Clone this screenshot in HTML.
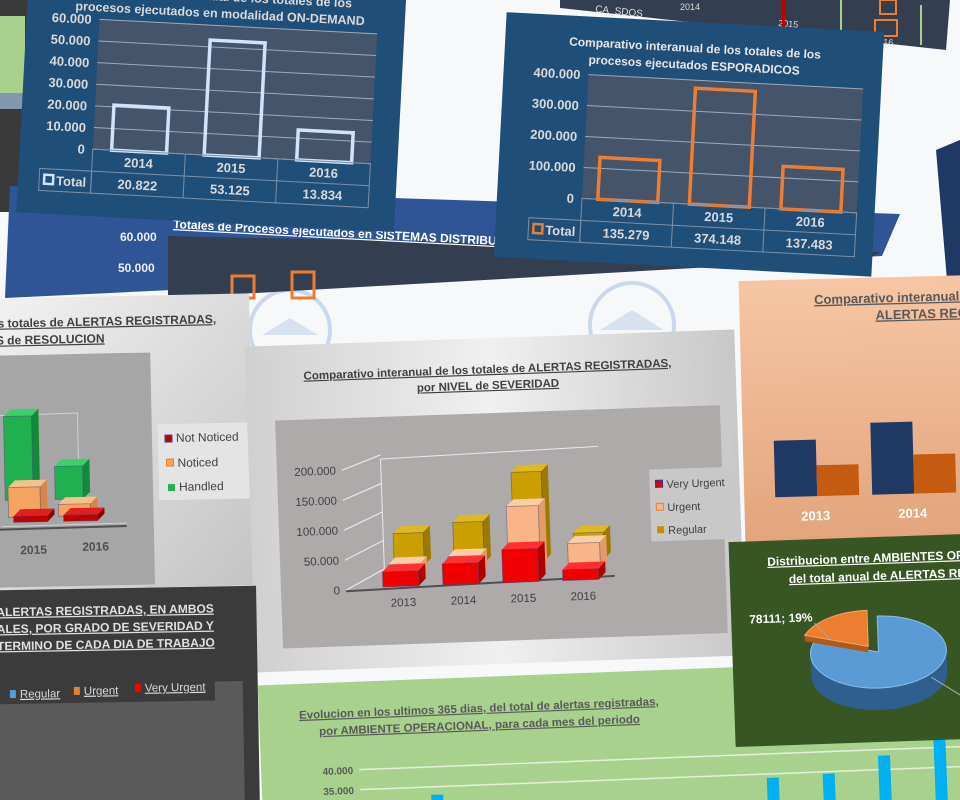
<!DOCTYPE html>
<html><head><meta charset="utf-8">
<style>
html,body{margin:0;padding:0;background:#fff;overflow:hidden;}
#wrap{position:relative;width:960px;height:800px;overflow:hidden;background:#f7f8fa;}
svg{position:absolute;left:0;top:0;font-family:"Liberation Sans",sans-serif;}
</style></head>
<body>
<div id="wrap">
<svg id="s" width="960" height="800" viewBox="0 0 960 800">
<defs>
<linearGradient id="gGray" x1="0" y1="0" x2="1" y2="1"><stop offset="0" stop-color="#f2f2f2"/><stop offset="1" stop-color="#c4c4c4"/></linearGradient>
<linearGradient id="gGray2" x1="0" y1="0" x2="1" y2="0"><stop offset="0" stop-color="#d0d0d0"/><stop offset="0.5" stop-color="#f0f0f0"/><stop offset="1" stop-color="#c8c8c8"/></linearGradient>
<linearGradient id="gPeach" x1="0" y1="0" x2="0" y2="1"><stop offset="0" stop-color="#f6c6a4"/><stop offset="1" stop-color="#e2a47c"/></linearGradient>
</defs>

<g fill="none" stroke="#c9d8ea" stroke-width="4">
<circle cx="290" cy="330" r="40"/><circle cx="632" cy="325" r="42"/>
<path d="M262 335 L290 318 L318 335 Z M600 330 L632 310 L664 330 Z" fill="#d6e2f0" stroke="none"/>
</g>

<g>
<rect x="0" y="0" width="28" height="212" fill="#3a3a3a"/>
<rect x="0" y="16" width="25" height="77" fill="#a9d18e"/>
<rect x="0" y="93" width="25" height="16" fill="#8497b0"/>
</g>

<g>
<polygon points="560,0 950,0 946,50 560,8" fill="#333f50"/>
<text x="595" y="12" font-size="10" fill="#ddd" transform="rotate(6,595,12)">CA_SDOS</text>
<text x="680" y="10" font-size="9" fill="#ddd">2014</text>
<text x="778" y="26" font-size="9" fill="#ddd" transform="rotate(5,778,26)">2015</text>
<text x="873" y="44" font-size="9" fill="#ddd" transform="rotate(5,873,44)">2016</text>
<rect x="782" y="0" width="3" height="28" fill="#c00000"/><rect x="880" y="0" width="16" height="14" fill="none" stroke="#ed7d31" stroke-width="2"/>
<rect x="875" y="20" width="22" height="16" fill="none" stroke="#ed7d31" stroke-width="2"/>
<rect x="840" y="0" width="2" height="40" fill="#a9d18e"/><rect x="920" y="5" width="2" height="40" fill="#a9d18e"/>
</g>

<polygon points="936,150 960,140 960,292 948,292" fill="#1f3864"/>

<g>
<polygon points="10,186 900,214 882,256 5,298" fill="#2f5597"/>
<polygon points="168,236 880,252 870,258 168,298" fill="#333f50"/>
<text x="120" y="241" font-size="12" font-weight="bold" fill="#eee">60.000</text>
<text x="118" y="272" font-size="12" font-weight="bold" fill="#eee">50.000</text>
<text x="173" y="228" font-size="12" font-weight="bold" fill="#fff" text-decoration="underline" transform="rotate(3,173,228)">Totales de Procesos ejecutados en SISTEMAS DISTRIBUIDOS, bajo planificaciones</text>
<rect x="232" y="276" width="22" height="22" fill="none" stroke="#ed7d31" stroke-width="3"/>
<rect x="292" y="272" width="22" height="26" fill="none" stroke="#ed7d31" stroke-width="3"/>
</g>

<g id="od" transform="rotate(3,205,110)">
<rect x="22" y="-30" width="378" height="252" fill="#1f4e79"/>
<text x="215" y="0" font-size="12.5" font-weight="bold" fill="#d9d9d9" text-anchor="middle">Comparativo interanual de los totales de los</text>
<text x="215" y="17" font-size="12.5" font-weight="bold" fill="#d9d9d9" text-anchor="middle">procesos ejecutados en modalidad ON-DEMAND</text>
<rect x="95" y="25" width="278" height="130" fill="#44546a"/>
<g id="odGrid"></g><g id="odBars"></g><g id="odTable"></g>
</g>

<g id="es" transform="translate(0,4) rotate(3,690,140)">
<rect x="500" y="18" width="378" height="245" fill="#1f4e79"/>
<text x="690" y="48" font-size="12" font-weight="bold" fill="#e7e6e6" text-anchor="middle">Comparativo interanual  de los totales de los</text>
<text x="690" y="65" font-size="12" font-weight="bold" fill="#e7e6e6" text-anchor="middle">procesos ejecutados ESPORADICOS</text>
<rect x="585" y="76" width="275" height="124" fill="#44546a"/>
<g id="esGrid"></g><g id="esBars"></g><g id="esTable"></g>
</g>

<g transform="rotate(-1.2,125,440)">
<rect x="-10" y="296" width="262" height="292" fill="url(#gGray)"/>
<text x="0" y="325" font-size="12" font-weight="bold" fill="#404040" text-decoration="underline">s totales de ALERTAS REGISTRADAS,</text>
<text x="-2" y="342" font-size="12" font-weight="bold" fill="#404040" text-decoration="underline">S de RESOLUCION</text>
<rect x="-8" y="353" width="160" height="232" fill="#a6a6a6"/>
<g stroke="#d0d0d0" fill="none" stroke-width="1"><path d="M0 413 L78 412 L78 500 M36 412 L36 500"/><path d="M0 524 L125 523"/></g>
<g id="erBars"></g>
<text x="18" y="552" font-size="12" font-weight="bold" fill="#505050">2015</text>
<text x="80" y="550" font-size="12" font-weight="bold" fill="#505050">2016</text>
<g>
<rect x="158" y="425" width="92" height="76" fill="#e4e4e4"/>
<rect x="165" y="436" width="7" height="7" fill="#c00000" stroke="#4040a0"/><text x="176" y="443" font-size="12" fill="#404040">Not Noticed</text>
<rect x="166" y="460" width="7" height="7" fill="#f4a460" stroke="#ed7d31"/><text x="177" y="468" font-size="12" fill="#404040">Noticed</text>
<rect x="167" y="485" width="7" height="7" fill="#1fb050"/><text x="178" y="492" font-size="12" fill="#404040">Handled</text>
</g>
</g>

<g transform="rotate(-2,495,500)">
<rect x="250" y="338" width="490" height="326" fill="url(#gGray2)"/>
<text x="492" y="373" font-size="11.5" font-weight="bold" fill="#404040" text-anchor="middle" text-decoration="underline">Comparativo interanual  de los totales de ALERTAS REGISTRADAS,</text>
<text x="492" y="389" font-size="11.5" font-weight="bold" fill="#404040" text-anchor="middle" text-decoration="underline">por NIVEL de SEVERIDAD</text>
<rect x="278" y="413" width="445" height="228" fill="#aeaaaa"/>
<g id="nsGrid"></g><g id="nsBars"></g>
<g>
<rect x="650" y="475" width="82" height="72" fill="#c8c8c8"/>
<rect x="656" y="486" width="7" height="7" fill="#e00000" stroke="#3030a0"/><text x="667" y="494" font-size="11" fill="#404040">Very Urgent</text>
<rect x="656" y="509" width="7" height="7" fill="#f8b58a" stroke="#ed7d31"/><text x="667" y="517" font-size="11" fill="#404040">Urgent</text>
<rect x="656" y="532" width="7" height="7" fill="#bf9000"/><text x="667" y="540" font-size="11" fill="#404040">Regular</text>
</g>
</g>

<g transform="rotate(-1.5,860,410)">
<rect x="742" y="278" width="240" height="265" fill="url(#gPeach)"/>
<text x="817" y="303" font-size="13" font-weight="bold" fill="#595959" text-decoration="underline">Comparativo  interanual de los totales de</text>
<text x="878" y="320" font-size="13" font-weight="bold" fill="#595959" text-decoration="underline">ALERTAS REGISTRADAS</text>
<g id="pcBars"></g>
</g>

<g transform="rotate(-1,130,700)">
<rect x="-10" y="588" width="268" height="220" fill="#3b3b3b"/>
<text x="-2" y="614" font-size="12" font-weight="bold" fill="#e0e0e0" text-decoration="underline">ALERTAS REGISTRADAS, EN AMBOS</text>
<text x="-2" y="631" font-size="12" font-weight="bold" fill="#e0e0e0" text-decoration="underline">ALES, POR GRADO DE SEVERIDAD Y</text>
<text x="-2" y="648" font-size="12" font-weight="bold" fill="#e0e0e0" text-decoration="underline">TERMINO DE CADA DIA DE TRABAJO</text>
<rect x="-10" y="702" width="253" height="110" fill="#5a5a5a"/>
<rect x="215" y="683" width="28" height="20" fill="#5a5a5a"/>
<g>
<rect x="10" y="688" width="6" height="8" fill="#5b9bd5"/><text x="20" y="696" font-size="11.5" fill="#d9d9d9" text-decoration="underline">Regular</text>
<rect x="74" y="686" width="6" height="8" fill="#ed7d31"/><text x="84" y="694" font-size="11.5" fill="#d9d9d9" text-decoration="underline">Urgent</text>
<rect x="135" y="684" width="6" height="8" fill="#ff0000"/><text x="145" y="692" font-size="11.5" fill="#d9d9d9" text-decoration="underline">Very Urgent</text>
</g>
</g>

<g transform="rotate(-2.2,610,735)">
<rect x="260" y="672" width="720" height="150" fill="#a9d18e"/>
<text x="480" y="707" font-size="11.5" font-weight="bold" fill="#595959" text-anchor="middle" text-decoration="underline">Evolucion en los ultimos 365 dias, del total de alertas registradas,</text>
<text x="480" y="724" font-size="11.5" font-weight="bold" fill="#595959" text-anchor="middle" text-decoration="underline">por AMBIENTE OPERACIONAL, para cada mes del periodo</text>
<g id="evGrid"></g><g id="evBars"></g>
</g>

<g transform="rotate(-2,850,640)">
<rect x="732" y="538" width="245" height="205" fill="#375623"/>
<text x="770" y="563" font-size="12" font-weight="bold" fill="#fff" text-decoration="underline">Distribucion  entre AMBIENTES OPERACIONALES</text>
<text x="791" y="581" font-size="12" font-weight="bold" fill="#fff" text-decoration="underline">del total anual de ALERTAS REGISTRADAS</text>
<g id="pie"></g>
</g>
</svg>
</div>
<script>
const odYears = ["2014","2015","2016"];
const odValues = [20822, 53125, 13834];
const odLabels = ["20.822","53.125","13.834"];
const odTicks = [0,10000,20000,30000,40000,50000,60000];
const odTickLabels = ["0","10.000","20.000","30.000","40.000","50.000","60.000"];
const esYears = ["2014","2015","2016"];
const esValues = [135279, 374148, 137483];
const esLabels = ["135.279","374.148","137.483"];
const esTicks = [0,100000,200000,300000,400000];
const esTickLabels = ["0","100.000","200.000","300.000","400.000"];
const erYears = ["2015","2016"];
const erNotNoticed = [2000, 2000];
const erNoticed = [10000, 4000];
const erHandled = [28000, 11000];
const nsYears = ["2013","2014","2015","2016"];
const nsVeryUrgent = [25000, 35000, 55000, 18000];
const nsUrgent = [20000, 30000, 110000, 45000];
const nsRegular = [55000, 70000, 150000, 45000];
const nsTicks = [0,50000,100000,150000,200000];
const nsTickLabels = ["0","50.000","100.000","150.000","200.000"];
const pcYears = ["2013","2014"];
const pcSeriesA = [110000, 140000];
const pcSeriesB = [60000, 76000];
const pieValues = [333000, 78111];
const pieLabel = "78111; 19%";
const evMonths = ["m1","m2","m3","m4","m5","m6","m7","m8","m9","m10","m11"];
const evValues = [29000, 33000, 29500, 29000, 28500, 29500, 28000, 34000, 34500, 38500, 44000];
const evTicks = [35000, 40000];
const evTickLabels = ["35.000","40.000"];

const NS = "http://www.w3.org/2000/svg";
function mk(tag, attrs, parent){const e=document.createElementNS(NS,tag);for(const k in attrs)e.setAttribute(k,attrs[k]);parent.appendChild(e);return e;}
function txt(parent,x,y,s,size,fill,anchor,weight){const t=mk("text",{x:x,y:y,"font-size":size,fill:fill,"text-anchor":anchor||"start","font-weight":weight||"normal"},parent);t.textContent=s;return t;}

function tableChart(ids, cfg){
  const g=document.getElementById(ids.grid), b=document.getElementById(ids.bars), t=document.getElementById(ids.table);
  const y=v=>cfg.y0-(v/cfg.max)*(cfg.y0-cfg.y1);
  const step=(cfg.x1-cfg.x0)/cfg.cats.length;
  const x=i=>cfg.x0+step*(i+0.5);
  cfg.ticks.forEach((tv,i)=>{
    const l=mk("line",{x1:cfg.x0,x2:cfg.x1,y1:y(tv),y2:y(tv),stroke:"#a0aab8","stroke-width":1},g);
    
    
    const tl=txt(g,cfg.x0-8,y(tv)+5,cfg.tickLabels[i],13,"#d9d9d9","end","bold");
    
    
  });
  cfg.values.forEach((v,i)=>{
    const r=mk("rect",{x:x(i)-cfg.bw/2,y:y(v),width:cfg.bw,height:cfg.y0-y(v),fill:"none",stroke:cfg.color,"stroke-width":3.5},b);
    
    
  });
  const ty=cfg.y0, rh=22;
  mk("rect",{x:cfg.x0,y:ty,width:cfg.x1-cfg.x0,height:rh*2,fill:"none",stroke:"#7f8fa6"},t);
  mk("rect",{x:cfg.x0-52,y:ty+rh,width:52,height:rh,fill:"none",stroke:"#7f8fa6"},t);
  mk("line",{x1:cfg.x0,x2:cfg.x1,y1:ty+rh,y2:ty+rh,stroke:"#7f8fa6"},t);
  for(let i=1;i<cfg.cats.length;i++) mk("line",{x1:cfg.x0+step*i,x2:cfg.x0+step*i,y1:ty,y2:ty+rh*2,stroke:"#7f8fa6"},t);
  cfg.cats.forEach((c,i)=>{
    const a=txt(t,x(i),ty+16,c,13,"#d9d9d9","middle","bold");
    
    
    const v=txt(t,x(i),ty+rh+16,cfg.labels[i],13,"#d9d9d9","middle","bold");
    
    
  });
  mk("rect",{x:cfg.x0-47,y:ty+rh+6,width:9,height:9,fill:"none",stroke:cfg.color,"stroke-width":2.5},t);
  const lg=txt(t,cfg.x0-35,ty+rh+16,"Total",13,"#d9d9d9","start","bold");
  
  
}
tableChart({grid:"odGrid",bars:"odBars",table:"odTable"},{cats:odYears,values:odValues,labels:odLabels,ticks:odTicks,tickLabels:odTickLabels,max:60000,x0:95,x1:373,y0:155,y1:25,bw:55,color:"#cfe4fb"});
tableChart({grid:"esGrid",bars:"esBars",table:"esTable"},{cats:esYears,values:esValues,labels:esLabels,ticks:esTicks,tickLabels:esTickLabels,max:400000,x0:585,x1:860,y0:200,y1:76,bw:60,color:"#ed7d31"});

function box(parent,x,yTop,w,h,front,top,side,name){
  const d=7;
  mk("polygon",{points:`${x},${yTop} ${x+d},${yTop-d} ${x+w+d},${yTop-d} ${x+w},${yTop}`,fill:top},parent);
  mk("polygon",{points:`${x+w},${yTop} ${x+w+d},${yTop-d} ${x+w+d},${yTop+h-d} ${x+w},${yTop+h}`,fill:side},parent);
  const r=mk("rect",{x:x,y:yTop,width:w,height:h,fill:front,stroke:"rgba(60,60,120,0.5)","stroke-width":0.8},parent);
  
  
}
(function(){
  const p=document.getElementById("erBars");
  const base=520, sc=90/30000, xs=[2,52];
  erYears.forEach((c,i)=>{
    box(p,xs[i]+2,base-10-erHandled[i]*sc-12,28,erHandled[i]*sc,"#21b04f","#3ccf6a","#138a3a","bar-handled-"+c);
    box(p,xs[i]+5,base-5-erNoticed[i]*sc,32,erNoticed[i]*sc,"#f4a460","#f8c08a","#d8844a","bar-noticed-"+c);
    box(p,xs[i]+10,base-erNotNoticed[i]*sc,34,Math.max(4,erNotNoticed[i]*sc),"#c00000","#e02020","#900000","bar-not-noticed-"+c);
  });
  mk("line",{x1:-8,y1:527,x2:125,y2:526,stroke:"#505050","stroke-width":2},p);
})();
(function(){
  const g=document.getElementById("nsGrid"), p=document.getElementById("nsBars");
  const y0=585, sc=120/200000;
  nsTicks.forEach((tv,i)=>{
    const l=txt(g,337,y0-tv*sc+4,nsTickLabels[i],11.5,"#404040","end");
    
    
    mk("line",{x1:343,y1:y0-tv*sc,x2:382,y2:y0-tv*sc-20+tv*sc*0.05,stroke:"#e8e8e8","stroke-width":1.2},g);
  });
  mk("line",{x1:382,y1:565,x2:382,y2:455,stroke:"#e8e8e8"},g);
  mk("line",{x1:382,y1:455,x2:600,y2:450,stroke:"#e8e8e8"},g);
  mk("line",{x1:343,y1:586,x2:612,y2:580,stroke:"#505050","stroke-width":2},g);
  const xc=i=>400+i*60;
  nsYears.forEach((c,i)=>{
    box(p,xc(i)-8,y0-22-nsRegular[i]*sc,30,nsRegular[i]*sc,"#c9a000","#e0b820","#9c7a00","bar-regular-"+c);
    box(p,xc(i)-14,y0-12-nsUrgent[i]*sc,32,nsUrgent[i]*sc,"#f8b58a","#fbcca8","#e49a6a","bar-urgent-"+c);
    box(p,xc(i)-20,y0-2-nsVeryUrgent[i]*sc,36,nsVeryUrgent[i]*sc,"#f00000","#ff3030","#b00000","bar-very-urgent-"+c);
    const t=txt(p,xc(i),y0+18,c,11.5,"#404040","middle");
    
    
  });
})();
(function(){
  const p=document.getElementById("pcBars");
  const y0=495, sc=72/140000, xs=[773,870];
  pcYears.forEach((c,i)=>{
    const a=mk("rect",{x:xs[i],y:y0-pcSeriesA[i]*sc,width:42,height:pcSeriesA[i]*sc,fill:"#203864"},p);
    
    
    const b=mk("rect",{x:xs[i]+42,y:y0-pcSeriesB[i]*sc,width:42,height:pcSeriesB[i]*sc,fill:"#c55a11"},p);
    
    
    const t=txt(p,xs[i]+40,y0+24,c,13,"#ffffff","middle","bold");
    
    
  });
})();
(function(){
  const p=document.getElementById("pie");
  const cx=878, cy=653, rx=68, ry=36, dep=22;
  const tot=pieValues[0]+pieValues[1];
  const a0=-Math.PI/2, a1=a0+2*Math.PI*pieValues[0]/tot;
  const pt=(a,ox,oy,dy)=>[(cx+ox+rx*Math.cos(a)).toFixed(1),(cy+oy+ry*Math.sin(a)+(dy||0)).toFixed(1)];
  mk("path",{d:`M${pt(0,0,0)} A${rx} ${ry} 0 0 1 ${pt(Math.PI,0,0)} L${pt(Math.PI,0,0,dep)} A${rx} ${ry} 0 0 0 ${pt(0,0,0,dep)} Z`,fill:"#2e5f8f"},p);
  const big=mk("path",{d:`M${cx},${cy} L${pt(a0,0,0)} A${rx} ${ry} 0 1 1 ${pt(a1,0,0)} Z`,fill:"#5b9bd5",stroke:"#8fbbe5"},p);
  
  
  const ox=-10, oy=-6;
  mk("path",{d:`M${cx+ox},${cy+oy} L${pt(a1,ox,oy)} L${pt(a1,ox,oy,6)} L${cx+ox},${cy+oy+6} Z`,fill:"#b05a1a"},p);
  const sm=mk("path",{d:`M${cx+ox},${cy+oy} L${pt(a1,ox,oy)} A${rx} ${ry} 0 0 1 ${pt(a0,ox,oy)} Z`,fill:"#ed7d31",stroke:"#f4a56a"},p);
  
  
  mk("line",{x1:815,y1:622,x2:832,y2:640,stroke:"#aaa"},p);
  mk("line",{x1:930,y1:680,x2:975,y2:710,stroke:"#aaa"},p);
  const l=txt(p,750,620,pieLabel,12,"#ffffff","start","bold");
  
  
})();
(function(){
  const g=document.getElementById("evGrid"), p=document.getElementById("evBars");
  const y=v=>760-(v-40000)*4/1000;
  evTicks.forEach((tv,i)=>{
    mk("line",{x1:358,x2:990,y1:y(tv),y2:y(tv),stroke:"#e2efd9","stroke-width":1.5},g);
    const t=txt(g,352,y(tv)+4,evTickLabels[i],10,"#595959","end","bold");
    
    
  });
  evMonths.forEach((m,i)=>{
    const r=mk("rect",{x:373+i*56,y:y(evValues[i]),width:12,height:Math.max(0,815-y(evValues[i])),fill:"#00b0f0"},p);
    
    
  });
})();
</script>
</body></html>
